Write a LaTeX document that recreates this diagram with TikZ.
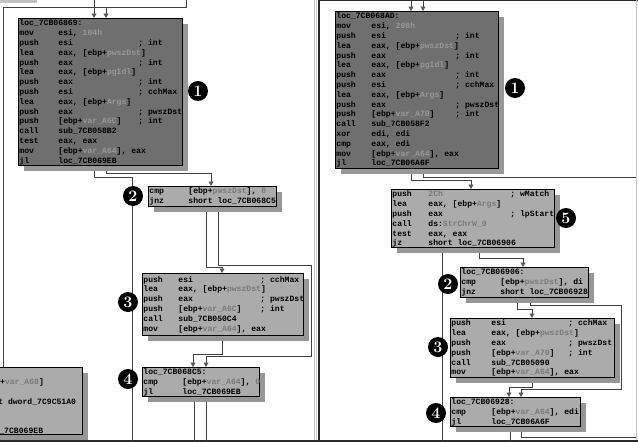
\documentclass[tikz,border=0pt]{standalone}
\usepackage{fontspec}
\usetikzlibrary{arrows.meta,shadows}
\newfontfamily\codefont{Liberation Mono}
\definecolor{darkfill}{HTML}{6F6F6F}
\definecolor{lightfill}{HTML}{ABABAB}
\definecolor{shadowc}{HTML}{979797}
\definecolor{vardark}{HTML}{989898}
\definecolor{varlight}{HTML}{7A7A7A}
\definecolor{edgec}{HTML}{404040}
\definecolor{tipc}{HTML}{5A5A5A}
\definecolor{framedark}{HTML}{2A2A2A}
\definecolor{framelight}{HTML}{C2C2C2}
\newlength\cma
\newlength\cmb
\newcommand\asm[3]{\makebox[\cma][l]{#1}\makebox[\cmb][l]{#2}#3}
\newcommand\gd[1]{\textcolor{vardark}{#1}}
\newcommand\gl[1]{\textcolor{varlight}{#1}}
\pgfdeclarelayer{bg}
\pgfsetlayers{bg,main}
\tikzset{
 boxbase/.style={draw=black, line width=1.1pt, inner sep=0pt, anchor=north west,
   drop shadow={shadow xshift=5pt, shadow yshift=-5pt, fill=shadowc, opacity=1}},
 darkbox/.style={boxbase, fill=darkfill},
 lightbox/.style={boxbase, fill=lightfill},
 codetext/.style={inner xsep=1.2pt, inner ysep=0.8pt, anchor=north west,
   font={\codefont\bfseries\fontsize{8.1pt}{9.8pt}\selectfont}, text=black},
 badge/.style={circle, fill=black, text=white, minimum size=20pt, inner sep=0pt,
   font={\bfseries\fontsize{16pt}{16pt}\selectfont}},
 edge/.style={draw=edgec, line width=0.8pt},
 arr/.style={edge, -{Triangle[length=4.5pt,width=5pt,color=tipc]}},
}
\begin{document}
\begin{tikzpicture}[x=1pt,y=-1pt]
\useasboundingbox (0,0) rectangle (638,442);
\begin{scope}
\clip (0,0) rectangle (638,442);
% ---------------- left panel boxes
\node[darkbox, minimum width=164pt, minimum height=147pt] (b1) at (18,18) {};
\node[codetext] (b1t) at (b1.north west) {\setlength\cma{39pt}\setlength\cmb{80pt}%
\begin{tabular}{@{}l@{}}
loc\_7CB06869:\\
\asm{mov}{esi, \gd{104h}}{}\\
\asm{push}{esi}{; int}\\
\asm{lea}{eax, [ebp+\gd{pwszDst}]}{}\\
\asm{push}{eax}{; int}\\
\asm{lea}{eax, [ebp+\gd{pgIdl}]}{}\\
\asm{push}{eax}{; int}\\
\asm{push}{esi}{; cchMax}\\
\asm{lea}{eax, [ebp+\gd{Args}]}{}\\
\asm{push}{eax}{; pwszDst}\\
\asm{push}{[ebp+\gd{var\_A6C}]}{; int}\\
\asm{call}{sub\_7CB058B2}{}\\
\asm{test}{eax, eax}{}\\
\asm{mov}{[ebp+\gd{var\_A64}], eax}{}\\
\asm{jl}{loc\_7CB069EB}{}
\end{tabular}};

\node[lightbox, minimum width=128pt, minimum height=20pt] (b2) at (148,186) {};
\node[codetext] (b2t) at (b2.north west) {\setlength\cma{39pt}\setlength\cmb{80pt}%
\begin{tabular}{@{}l@{}}
\asm{cmp}{[ebp+\gl{pwszDst}], \gl{0}}{}\\
\asm{jnz}{short loc\_7CB068C5}{}
\end{tabular}};

\node[lightbox, minimum width=161pt, minimum height=62pt] (b3) at (142,273) {};
\node[codetext, inner ysep=2pt] (b3t) at (b3.north west) {\setlength\cma{35pt}\setlength\cmb{82pt}%
\begin{tabular}{@{}l@{}}
\asm{push}{esi}{; cchMax}\\
\asm{lea}{eax, [ebp+\gl{pwszDst}]}{}\\
\asm{push}{eax}{; pwszDst}\\
\asm{push}{[ebp+\gl{var\_A6C}]}{; int}\\
\asm{call}{sub\_7CB050C4}{}\\
\asm{mov}{[ebp+\gl{var\_A64}], eax}{}
\end{tabular}};

\node[lightbox, minimum width=117pt, minimum height=29pt] (b4) at (142,367) {};
\node[codetext] (b4t) at (b4.north west) {\setlength\cma{39pt}\setlength\cmb{80pt}%
\begin{tabular}{@{}l@{}}
loc\_7CB068C5:\\
\asm{cmp}{[ebp+\gl{var\_A64}], \gl{0}}{}\\
\asm{jl}{loc\_7CB069EB}{}
\end{tabular}};

\node[lightbox, minimum width=142pt, minimum height=67pt] (b6) at (-60,367) {};
\node[codetext] (b6t) at (b6.north west) {%
\begin{tabular}{@{}l@{}}
\\
\hspace*{39.3pt}[ebp+\gl{var\_A68}]\\
\\
\hspace*{32.6pt}offset dword\_7C9C51A0\\
\\
\\
\hspace*{43.4pt}loc\_7CB069EB
\end{tabular}};

% ---------------- right panel boxes
\node[darkbox, minimum width=163pt, minimum height=157pt] (rb1) at (335,11) {};
\node[codetext] (rb1t) at (rb1.north west) {\setlength\cma{35pt}\setlength\cmb{84pt}%
\begin{tabular}{@{}l@{}}
loc\_7CB068AD:\\
\asm{mov}{esi, \gd{208h}}{}\\
\asm{push}{esi}{; int}\\
\asm{lea}{eax, [ebp+\gd{pwszDst}]}{}\\
\asm{push}{eax}{; int}\\
\asm{lea}{eax, [ebp+\gd{pgIdl}]}{}\\
\asm{push}{eax}{; int}\\
\asm{push}{esi}{; cchMax}\\
\asm{lea}{eax, [ebp+\gd{Args}]}{}\\
\asm{push}{eax}{; pwszDst}\\
\asm{push}{[ebp+\gd{var\_A70}]}{; int}\\
\asm{call}{sub\_7CB058F2}{}\\
\asm{xor}{edi, edi}{}\\
\asm{cmp}{eax, edi}{}\\
\asm{mov}{[ebp+\gd{var\_A64}], eax}{}\\
\asm{jl}{loc\_7CB06A6F}{}
\end{tabular}};

\node[lightbox, minimum width=163pt, minimum height=58pt] (rb5) at (391,189) {};
\node[codetext] (rb5t) at (rb5.north west) {\setlength\cma{36pt}\setlength\cmb{82pt}%
\begin{tabular}{@{}l@{}}
\asm{push}{\gl{2Ch}}{; wMatch}\\
\asm{lea}{eax, [ebp+\gl{Args}]}{}\\
\asm{push}{eax}{; lpStart}\\
\asm{call}{ds:\gl{StrChrW\_0}}{}\\
\asm{test}{eax, eax}{}\\
\asm{jz}{short loc\_7CB06906}{}
\end{tabular}};

\node[lightbox, minimum width=128pt, minimum height=30pt] (rb2) at (460,267) {};
\node[codetext] (rb2t) at (rb2.north west) {\setlength\cma{39pt}\setlength\cmb{80pt}%
\begin{tabular}{@{}l@{}}
loc\_7CB06906:\\
\asm{cmp}{[ebp+\gl{pwszDst}], di}{}\\
\asm{jnz}{short loc\_7CB06928}{}
\end{tabular}};

\node[lightbox, minimum width=164pt, minimum height=59pt] (rb3) at (450,318) {};
\node[codetext] (rb3t) at (rb3.north west) {\setlength\cma{40pt}\setlength\cmb{77pt}%
\begin{tabular}{@{}l@{}}
\asm{push}{esi}{; cchMax}\\
\asm{lea}{eax, [ebp+\gl{pwszDst}]}{}\\
\asm{push}{eax}{; pwszDst}\\
\asm{push}{[ebp+\gl{var\_A70}]}{; int}\\
\asm{call}{sub\_7CB05090}{}\\
\asm{mov}{[ebp+\gl{var\_A64}], eax}{}
\end{tabular}};

\node[lightbox, minimum width=130pt, minimum height=29pt] (rb4) at (450,397) {};
\node[codetext] (rb4t) at (rb4.north west) {\setlength\cma{40pt}\setlength\cmb{80pt}%
\begin{tabular}{@{}l@{}}
loc\_7CB06928:\\
\asm{cmp}{[ebp+\gl{var\_A64}], edi}{}\\
\asm{jl}{loc\_7CB06A6F}{}
\end{tabular}};

% ---------------- badges
\node[badge] (n1l) at (198,91) {1};
\node[badge] (n2l) at (133,196) {2};
\node[badge] (n3l) at (128,302) {3};
\node[badge] (n4l) at (128,379) {4};
\node[badge] (n1r) at (515,88) {1};
\node[badge] (n5r) at (566,218) {5};
\node[badge] (n2r) at (448,284) {2};
\node[badge] (n3r) at (438,347) {3};
\node[badge] (n4r) at (436,413) {4};
\end{scope}

\begin{pgfonlayer}{bg}
\begin{scope}
\clip (0,0) rectangle (638,442);
\fill[white] (0,0) rectangle (638,442);
% frame
\fill[framelight] (0,0) rectangle (37,3);
\draw[framelight, line width=0.7pt] (314.8,0) -- (314.8,442);
\draw[framelight!70, line width=0.6pt] (316.4,0) -- (316.4,442);
\draw[framedark, line width=2.2pt] (319.2,0) -- (319.2,442);
\draw[framedark, line width=1pt] (319,0.6) -- (638,0.6);
\draw[framelight, line width=1.4pt] (636.6,0) -- (636.6,442);
\draw[framedark, line width=1.6pt] (0,441.2) -- (638,441.2);
% free ends
\coordinate (inA) at (186,-3);
\coordinate (inB) at (94,-3);
\coordinate (outL1) at (132,446);
\coordinate (outL2) at (194,446);
\coordinate (outL3) at (206,446);
\coordinate (inC) at (411,-3);
\coordinate (inD) at (423,-3);
\coordinate (outR1) at (636,177);
\coordinate (outR2) at (442,446);
\coordinate (outR3) at (510,446);
\coordinate (outR4) at (636,437);
% left edges
\draw[edge] (inA) |- (3.5,7) -- ([xshift=63.5pt]b6.north west);
\draw[arr] (inA) |- (106,7) -- ([xshift=88pt]b1.north west);
\draw[arr] (inB) -- ([xshift=76pt]b1.north west);
\draw[edge] ([xshift=76pt]b1.south west) |- (132,177) -- (outL1);
\draw[arr] ([xshift=88pt]b1.south west) |- (211,173) -- ([xshift=63pt]b2.north west);
\draw[arr] ([xshift=58pt]b2.south west) |- (222,267) -- ([xshift=80pt]b3.north west);
\draw[arr] ([xshift=70pt]b2.south west) |- (311,265) |- (206,356) -- ([xshift=64pt]b4.north west);
\draw[arr] ([xshift=80pt]b3.south west) |- (193,354) -- ([xshift=51pt]b4.north west);
\draw[edge] ([xshift=52pt]b4.south west) -- (outL2);
\draw[edge] ([xshift=64pt]b4.south west) -- (outL3);
% right edges
\draw[arr] (inC) -- ([xshift=76pt]rb1.north west);
\draw[arr] (inD) -- ([xshift=88pt]rb1.north west);
\draw[arr] ([xshift=76pt]rb1.south west) |- (471,180) -- ([xshift=80pt]rb5.north west);
\draw[edge] ([xshift=88pt]rb1.south west) |- (outR1);
\draw[edge] ([xshift=51pt]rb5.south west) -- (outR2);
\draw[arr] ([xshift=88pt]rb5.south west) |- (523,258) -- ([xshift=63pt]rb2.north west);
\draw[arr] ([xshift=57pt]rb2.south west) |- (532,309) -- ([xshift=82pt]rb3.north west);
\draw[arr] ([xshift=70pt]rb2.south west) |- (621,305) |- (521,389) -- ([xshift=71pt]rb4.north west);
\draw[arr] ([xshift=82pt]rb3.south west) |- (509,387) -- ([xshift=59pt]rb4.north west);
\draw[edge] ([xshift=60pt]rb4.south west) -- (outR3);
\draw[edge] ([xshift=71pt]rb4.south west) |- (outR4);
\end{scope}
\end{pgfonlayer}
\end{tikzpicture}
\end{document}
